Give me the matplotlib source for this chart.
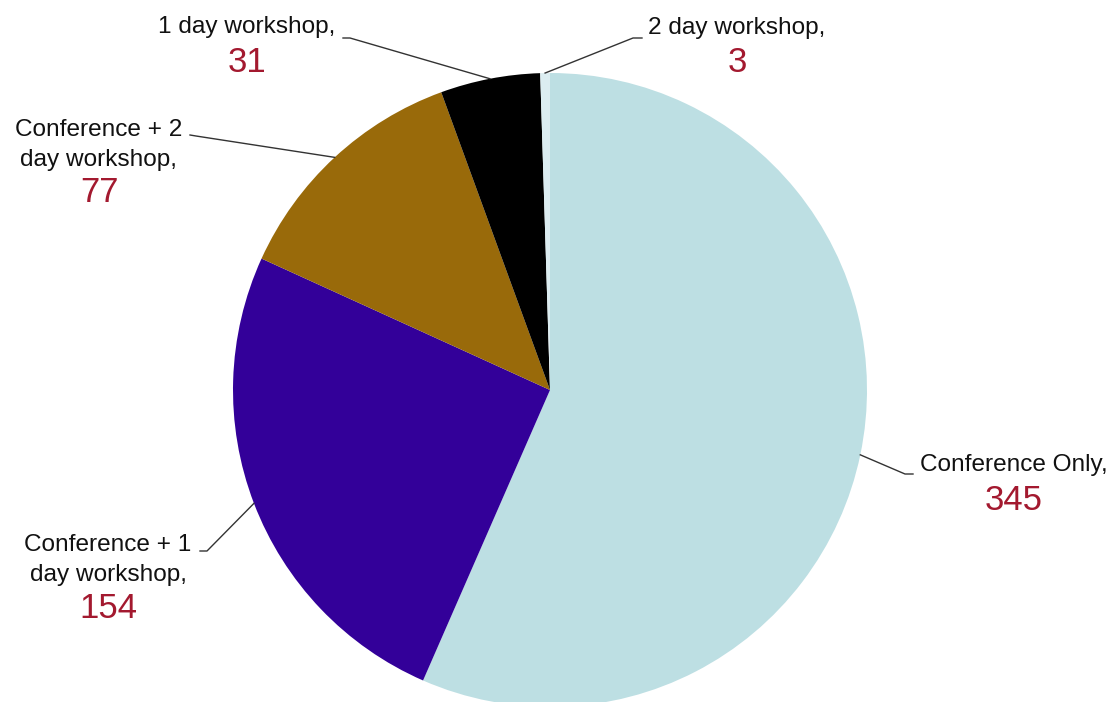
import matplotlib.pyplot as plt
import numpy as np

plt.rcParams['font.family'] = ['Liberation Sans', 'DejaVu Sans']

labels = ["Conference Only,", "Conference + 1\nday workshop,", "Conference + 2\nday workshop,",
          "1 day workshop,", "2 day workshop,"]
values = [345, 154, 77, 31, 3]
colors = ["#BDDFE3", "#330099", "#996A0A", "#000000", "#DCEDF1"]

# layout (pixel units, y measured from the bottom)
H = 702
cx, cy, r = 550, H - 390, 317
# text anchor (x, y of label), number y, leader elbow points
layout = [
    ((1014, H - 465), H - 500, [(905, H - 474), (913, H - 474)]),
    ((108, H - 560), H - 608, [(207, H - 551), (200, H - 551)]),
    ((99, H - 145), H - 193, [(196, H - 136), (190, H - 135)]),
    ((247, H - 27), H - 62, [(350, H - 38), (343, H - 38)]),
    ((737, H - 28), H - 62, [(633, H - 38), (642, H - 38)]),
]

fig = plt.figure(figsize=(11.19, 7.02), dpi=100)
ax = fig.add_axes([0, 0, 1, 1])
wedges, _ = ax.pie(values, colors=colors, startangle=90, counterclock=False,
                   center=(cx, cy), radius=r, frame=True,
                   wedgeprops=dict(linewidth=0))

for w, lab, val, (tpos, ny, elbow) in zip(wedges, labels, values, layout):
    mid = np.deg2rad((w.theta1 + w.theta2) / 2)
    px, py = cx + r * np.cos(mid), cy + r * np.sin(mid)
    xs = [px] + [p[0] for p in elbow]
    ys = [py] + [p[1] for p in elbow]
    ax.plot(xs, ys, color="#333333", lw=1.0)
    ax.text(tpos[0], tpos[1], lab, ha="center", va="center", fontsize=17.6,
            color="#111111", linespacing=1.42)
    ax.text(tpos[0], ny, str(val), ha="center", va="center", fontsize=25,
            color="#A3192F")

ax.set_xlim(0, 1119)
ax.set_ylim(0, H)
ax.set_aspect("equal")
ax.axis("off")
fig.savefig("out.png", dpi=100)
